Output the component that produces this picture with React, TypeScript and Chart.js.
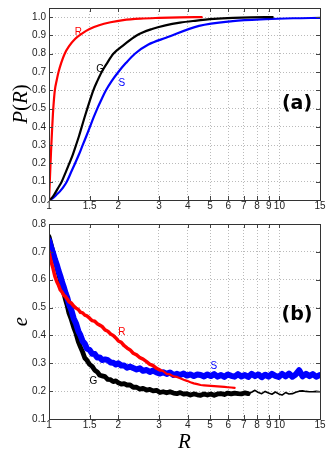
import React, { useEffect, useRef } from "react";
import { Chart, registerables } from "chart.js";
Chart.register(...registerables);

// ---------- tick labels ----------
const xTicks = [1, 1.5, 2, 3, 4, 5, 6, 7, 8, 9, 10, 15];
const topYTicks = [0, 0.1, 0.2, 0.3, 0.4, 0.5, 0.6, 0.7, 0.8, 0.9, 1.0];
const bottomYTicks = [0.1, 0.2, 0.3, 0.4, 0.5, 0.6, 0.7, 0.8];

// ---------- panel (a): P(R) ----------
const redTopR = [1.0, 1.005, 1.01, 1.02, 1.03, 1.04, 1.05, 1.06, 1.08, 1.1, 1.13, 1.17, 1.22, 1.3, 1.4, 1.5, 1.65, 1.85, 2.1, 2.5, 3.0, 3.7, 4.6];
const redTopP = [0, 0.06, 0.13, 0.26, 0.37, 0.47, 0.545, 0.6, 0.655, 0.7, 0.75, 0.8, 0.84, 0.882, 0.913, 0.935, 0.956, 0.972, 0.984, 0.992, 0.996, 0.999, 1.0];

const blackTopR = [1.0, 1.03, 1.06, 1.1, 1.135, 1.18, 1.225, 1.27, 1.31, 1.35, 1.387, 1.425, 1.466, 1.51, 1.557, 1.62, 1.693, 1.79, 1.902, 2.12, 2.4, 2.8, 3.2, 3.7, 4.3, 5.2, 6.3, 7.5, 9.35];
const blackTopP = [0, 0.012, 0.035, 0.07, 0.1, 0.15, 0.2, 0.25, 0.3, 0.35, 0.4, 0.45, 0.5, 0.55, 0.6, 0.65, 0.7, 0.75, 0.8, 0.85, 0.9, 0.935, 0.955, 0.97, 0.98, 0.99, 0.996, 0.999, 1.0];

const blueTopR = [1.0, 1.04, 1.08, 1.12, 1.16, 1.194, 1.245, 1.297, 1.35, 1.4, 1.453, 1.506, 1.56, 1.62, 1.69, 1.767, 1.87, 2.0, 2.16, 2.36, 2.7, 3.22, 4.48, 6.27, 8.7, 11.5, 15];
const blueTopP = [0, 0.01, 0.03, 0.05, 0.075, 0.1, 0.15, 0.2, 0.25, 0.3, 0.35, 0.4, 0.45, 0.5, 0.55, 0.6, 0.65, 0.7, 0.75, 0.8, 0.85, 0.887, 0.952, 0.978, 0.989, 0.994, 0.996];

// ---------- panel (b): e ----------
const gridR = [
  1.0, 1.02, 1.04, 1.06, 1.08, 1.1, 1.12, 1.14, 1.16, 1.18,
  1.2, 1.22, 1.25, 1.28, 1.31, 1.34, 1.37, 1.4, 1.43, 1.46,
  1.5, 1.54, 1.58, 1.62, 1.66, 1.7, 1.75, 1.8, 1.85, 1.9,
  1.95, 2.0, 2.06, 2.12, 2.18, 2.25, 2.32, 2.4, 2.48, 2.56,
  2.65, 2.74, 2.83, 2.93, 3.03, 3.13, 3.24, 3.35, 3.47, 3.59,
  3.71, 3.84, 3.97, 4.11, 4.25, 4.4, 4.55, 4.71, 4.87, 5.04,
  5.21, 5.39, 5.58, 5.77, 5.97, 6.18, 6.39, 6.61, 6.84, 7.08,
  7.32, 7.57, 7.83, 8.1, 8.38, 8.67, 8.97, 9.28, 9.6, 9.93,
  10.27, 10.63, 11.0, 11.38, 11.77, 12.18, 12.6, 13.04, 13.49, 13.96,
  14.44, 15.0,
];
const blackE = [
  0.755, 0.728, 0.7, 0.674, 0.648, 0.622, 0.598, 0.574, 0.551, 0.528,
  0.507, 0.481, 0.457, 0.429, 0.407, 0.378, 0.358, 0.34, 0.319, 0.311,
  0.296, 0.289, 0.275, 0.269, 0.257, 0.255, 0.252, 0.242, 0.241, 0.234,
  0.237, 0.23, 0.225, 0.227, 0.222, 0.222, 0.214, 0.214, 0.207, 0.21,
  0.204, 0.206, 0.201, 0.203, 0.195, 0.198, 0.194, 0.198, 0.193, 0.191,
  0.195, 0.189, 0.191, 0.186, 0.19, 0.187, 0.185, 0.19, 0.186, 0.19,
  0.185, 0.19, 0.191, 0.188, 0.193, 0.19, 0.193, 0.191, 0.19, 0.194,
  0.191, 0.196, 0.203, 0.195, 0.191, 0.199, 0.193, 0.189, 0.197, 0.19,
  0.186, 0.195, 0.19, 0.191, 0.196, 0.2, 0.201, 0.199, 0.198, 0.198,
  0.199, 0.198,
];
const blueE = [
  0.741, 0.718, 0.697, 0.674, 0.655, 0.632, 0.613, 0.591, 0.573, 0.552,
  0.536, 0.513, 0.491, 0.461, 0.443, 0.416, 0.4, 0.379, 0.37, 0.353,
  0.348, 0.334, 0.333, 0.321, 0.321, 0.312, 0.314, 0.311, 0.303, 0.302,
  0.296, 0.3, 0.292, 0.292, 0.284, 0.288, 0.283, 0.278, 0.282, 0.273,
  0.276, 0.269, 0.274, 0.267, 0.263, 0.268, 0.262, 0.267, 0.258, 0.262,
  0.258, 0.263, 0.256, 0.26, 0.254, 0.26, 0.258, 0.253, 0.26, 0.254,
  0.261, 0.252, 0.258, 0.251, 0.26, 0.255, 0.252, 0.261, 0.253, 0.258,
  0.251, 0.262, 0.254, 0.26, 0.25, 0.259, 0.252, 0.262, 0.255, 0.251,
  0.262, 0.253, 0.263, 0.252, 0.26, 0.275, 0.253, 0.262, 0.254, 0.261,
  0.252, 0.258,
];
const redE = [
  0.701, 0.666, 0.642, 0.613, 0.594, 0.58, 0.563, 0.555, 0.544, 0.539,
  0.531, 0.521, 0.516, 0.505, 0.498, 0.493, 0.483, 0.481, 0.473, 0.47,
  0.462, 0.453, 0.451, 0.442, 0.437, 0.432, 0.42, 0.415, 0.405, 0.4,
  0.391, 0.38, 0.375, 0.363, 0.355, 0.348, 0.336, 0.33, 0.32, 0.315,
  0.306, 0.296, 0.292, 0.282, 0.276, 0.272, 0.262, 0.26, 0.253, 0.251,
  0.246, 0.241, 0.237, 0.232, 0.228, 0.225, 0.222, 0.221, 0.22, 0.219,
  0.218, 0.217, 0.216, 0.215, 0.214, 0.213, 0.212,
];

// ---------- in-plot text labels ----------
const curveLabelText = ["R", "G", "S"];
const curveLabelColor = ["#ff0000", "#000000", "#0000ff"];
const topLabelR = [1.34, 1.665, 2.07];
const topLabelP = [0.916, 0.713, 0.64];
const bottomLabelR = [2.07, 1.557, 5.19];
const bottomLabelE = [0.411, 0.234, 0.291];
const tagR = 11.92;
const tagTopP = 0.525;
const tagBottomE = 0.473;

const RED = "#ff0000";
const BLACK = "#000000";
const BLUE = "#0000ff";

function pts(r: number[], v: number[]) {
  return r.map((x, i) => ({ x, y: v[i] }));
}

type Part = { t: string; italic: boolean };

type PanelCfg = {
  yTicks: number[];
  labelR: number[];
  labelV: number[];
  tag: string;
  tagV: number;
  yTitle: Part[];
  xTitle: string | null;
};

function panelPlugin(cfg: PanelCfg) {
  return {
    id: "panelDecor",
    afterDraw(chart: any) {
      const { ctx, chartArea: a } = chart;
      const sx = chart.scales.x;
      const sy = chart.scales.y;
      ctx.save();
      // inward tick marks
      ctx.strokeStyle = "#444";
      ctx.lineWidth = 1;
      ctx.beginPath();
      for (const t of xTicks) {
        const px = Math.round(sx.getPixelForValue(t)) + 0.5;
        ctx.moveTo(px, a.bottom);
        ctx.lineTo(px, a.bottom - 4);
        ctx.moveTo(px, a.top);
        ctx.lineTo(px, a.top + 4);
      }
      for (const t of cfg.yTicks) {
        const py = Math.round(sy.getPixelForValue(t)) + 0.5;
        ctx.moveTo(a.left, py);
        ctx.lineTo(a.left + 4, py);
        ctx.moveTo(a.right, py);
        ctx.lineTo(a.right - 4, py);
      }
      ctx.stroke();
      // frame
      ctx.strokeStyle = "#333";
      ctx.strokeRect(
        Math.round(a.left) + 0.5,
        Math.round(a.top) + 0.5,
        Math.round(a.right - a.left),
        Math.round(a.bottom - a.top)
      );
      // curve labels
      ctx.font = '10px "Liberation Sans"';
      ctx.textAlign = "center";
      ctx.textBaseline = "middle";
      cfg.labelR.forEach((r, i) => {
        ctx.fillStyle = curveLabelColor[i];
        ctx.fillText(curveLabelText[i], sx.getPixelForValue(r), sy.getPixelForValue(cfg.labelV[i]));
      });
      // panel tag
      ctx.fillStyle = "#000";
      ctx.font = 'bold 19px "DejaVu Sans"';
      ctx.fillText(cfg.tag, sx.getPixelForValue(tagR), sy.getPixelForValue(cfg.tagV));
      // y title (rotated)
      ctx.save();
      ctx.translate(26.5, (a.top + a.bottom) / 2);
      ctx.rotate(-Math.PI / 2);
      ctx.textAlign = "left";
      ctx.textBaseline = "alphabetic";
      const fontFor = (p: Part) => (p.italic ? 'italic 21px "Liberation Serif"' : '21px "Liberation Serif"');
      let total = 0;
      const widths = cfg.yTitle.map((p) => {
        ctx.font = fontFor(p);
        const w = ctx.measureText(p.t).width;
        total += w;
        return w;
      });
      let cx = -total / 2;
      cfg.yTitle.forEach((p, i) => {
        ctx.font = fontFor(p);
        ctx.fillText(p.t, cx, 0);
        cx += widths[i];
      });
      ctx.restore();
      // x title
      if (cfg.xTitle) {
        ctx.font = 'italic 21px "Liberation Serif"';
        ctx.textAlign = "center";
        ctx.textBaseline = "alphabetic";
        ctx.fillText(cfg.xTitle, (a.left + a.right) / 2, a.bottom + 28.5);
      }
      ctx.restore();
    },
  };
}

const GRID = "rgba(130,130,130,0.55)";
const TICK_FONT = { family: '"Liberation Sans"', size: 10, lineHeight: 1 };

function makeOptions(yMin: number, yMax: number, yTicks: number[], padTop: number, xHeight: number) {
  return {
    responsive: false,
    animation: false,
    devicePixelRatio: 1,
    layout: { padding: { left: 0, right: 12, top: padTop, bottom: 0 } },
    plugins: { legend: { display: false }, tooltip: { enabled: false } },
    elements: { point: { radius: 0 }, line: { tension: 0, borderCapStyle: "round", borderJoinStyle: "round" } },
    scales: {
      x: {
        type: "logarithmic",
        min: 1,
        max: 15,
        afterBuildTicks: (s: any) => {
          s.ticks = xTicks.map((v) => ({ value: v }));
        },
        afterFit: (s: any) => {
          s.height = xHeight;
        },
        ticks: {
          autoSkip: false,
          maxRotation: 0,
          minRotation: 0,
          padding: 1,
          color: "#222",
          font: TICK_FONT,
          callback: (v: any) => String(v),
        },
        grid: { color: GRID, lineWidth: 1, drawTicks: false },
        border: { display: false, dash: [1, 2] },
      },
      y: {
        type: "linear",
        min: yMin,
        max: yMax,
        afterBuildTicks: (s: any) => {
          s.ticks = yTicks.map((v) => ({ value: v }));
        },
        afterFit: (s: any) => {
          s.width = 49;
        },
        ticks: {
          padding: 3,
          color: "#222",
          font: TICK_FONT,
          callback: (v: any) => Number(v).toFixed(1),
        },
        grid: { color: GRID, lineWidth: 1, drawTicks: false },
        border: { display: false, dash: [1, 2] },
      },
    },
  };
}

function line(data: { x: number; y: number }[], color: string, width: number, smooth = false) {
  const ds: any = { data, borderColor: color, backgroundColor: color, borderWidth: width, fill: false, pointRadius: 0 };
  if (smooth) ds.cubicInterpolationMode = "monotone";
  return ds;
}

export default function App() {
  const topRef = useRef<HTMLCanvasElement | null>(null);
  const botRef = useRef<HTMLCanvasElement | null>(null);

  useEffect(() => {
    const top = new Chart(topRef.current as HTMLCanvasElement, {
      type: "line",
      data: {
        datasets: [
          line(pts(redTopR, redTopP), RED, 2.2, true),
          line(pts(blackTopR, blackTopP), BLACK, 2.2, true),
          line(pts(blueTopR, blueTopP), BLUE, 2.2, true),
        ],
      },
      options: makeOptions(0, 1.05, topYTicks, 6, 16) as any,
      plugins: [
        panelPlugin({
          yTicks: topYTicks,
          labelR: topLabelR,
          labelV: topLabelP,
          tag: "(a)",
          tagV: tagTopP,
          yTitle: [
            { t: "P", italic: true },
            { t: "(", italic: false },
            { t: "R", italic: true },
            { t: ")", italic: false },
          ],
          xTitle: null,
        }),
      ],
    });

    const blackThick = pts(gridR.slice(0, 71), blackE.slice(0, 71));
    const blackThin = pts(gridR.slice(70), blackE.slice(70));
    const redThick = pts(gridR.slice(0, 45), redE.slice(0, 45));
    const redThin = pts(gridR.slice(44, redE.length), redE.slice(44));

    const bottom = new Chart(botRef.current as HTMLCanvasElement, {
      type: "line",
      data: {
        datasets: [
          line(redThick, RED, 3.5),
          line(redThin, RED, 2.2),
          line(pts(gridR, blueE), BLUE, 6),
          line(blackThick, BLACK, 4.8),
          line(blackThin, BLACK, 1.6),
        ],
      },
      options: makeOptions(0.1, 0.8, bottomYTicks, 8, 40) as any,
      plugins: [
        panelPlugin({
          yTicks: bottomYTicks,
          labelR: bottomLabelR,
          labelV: bottomLabelE,
          tag: "(b)",
          tagV: tagBottomE,
          yTitle: [{ t: "e", italic: true }],
          xTitle: "R",
        }),
      ],
    });

    return () => {
      top.destroy();
      bottom.destroy();
    };
  }, []);

  return (
    <div style={{ position: "absolute", left: 0, top: 0, width: 332, height: 459, background: "#fff" }}>
      <canvas ref={topRef} width={332} height={216} style={{ position: "absolute", left: 0, top: 0, width: 332, height: 216 }} />
      <canvas ref={botRef} width={332} height={243} style={{ position: "absolute", left: 0, top: 216, width: 332, height: 243 }} />
    </div>
  );
}
